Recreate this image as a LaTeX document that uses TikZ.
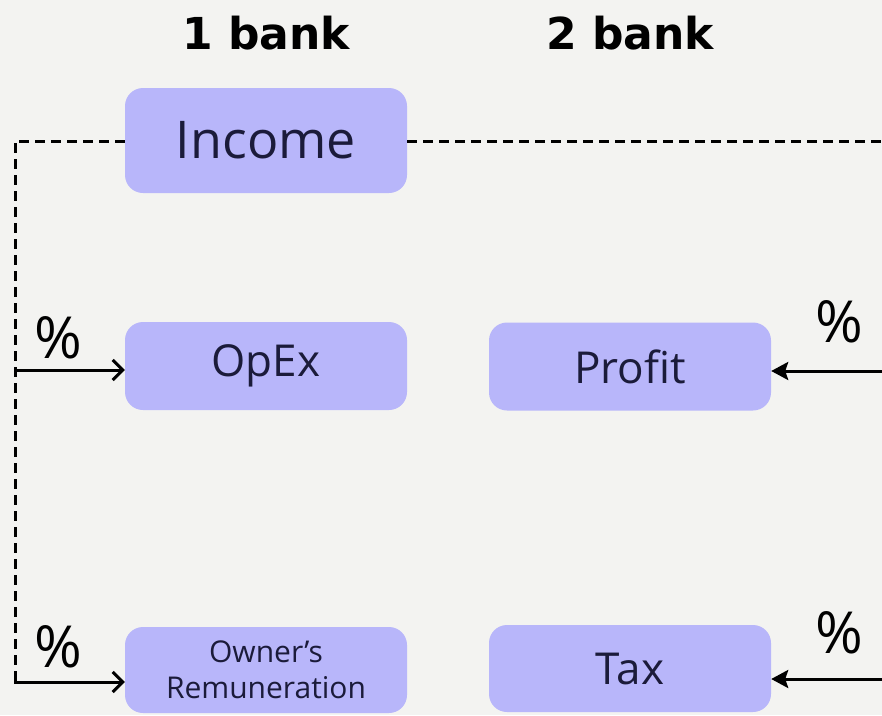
\documentclass[tikz,border=0pt]{standalone}
\usepackage{fontspec}
\setmainfont{Open Sans}
\newfontfamily\headfont{DejaVu Sans}
\usetikzlibrary{arrows.meta}
\definecolor{bgcol}{HTML}{F3F3F1}
\definecolor{boxfill}{HTML}{B8B6FA}
\definecolor{boxtext}{HTML}{1B1B3A}
\tikzset{
  bankbox/.style={rectangle, rounded corners=18pt, fill=boxfill, text=boxtext,
    minimum width=282pt, inner sep=0pt, align=center},
  flow/.style={line width=3pt, dash pattern=on 10pt off 6pt},
  feed/.style={line width=3pt, -{Straight Barb[length=10pt,width=20pt,line width=3pt]}},
  take/.style={line width=3pt, -{Stealth[length=17pt,width=18pt,inset=3pt]}},
  pct/.style={font=\fontsize{58}{58}\selectfont, text=black, inner sep=0pt}
}
\begin{document}
\begin{tikzpicture}[x=1pt, y=-1pt]
      \newcommand\LX{266}
      \newcommand\RX{630}
      \newcommand\BIG{\fontsize{52}{52}\selectfont}
      \newcommand\MID{\fontsize{44}{44}\selectfont}
      \newcommand\SMALL{\fontsize{30}{36}\selectfont}

      \fill[bgcol] (0, 0) rectangle (882, 715);
      \useasboundingbox (0, 0) rectangle (882, 715);

      % column headings
      \node[font=\headfont\bfseries\fontsize{44}{44}\selectfont] (bank1) at (\LX, 33) {1 bank};
      \node[font=\headfont\bfseries\fontsize{44}{44}\selectfont] (bank2) at (\RX, 33) {2 bank};

      % boxes
      \node[bankbox, minimum height=105pt, font=\BIG] (Income) at (\LX, 140.5) {Income};
      \node[bankbox, minimum height=88pt, font=\MID] (OpEx) at (\LX, 366) {OpEx};
      \node[bankbox, minimum height=88pt, font=\MID] (Profit) at (\RX, 366.5) {Profit};
      \node[bankbox, minimum height=86pt, font=\SMALL] (Owner) at (\LX, 670) {Owner’s\\Remuneration};
      \node[bankbox, minimum height=87pt, font=\MID] (Tax) at (\RX, 668.5) {Tax};

      % split points
      \coordinate (topL) at (15, 141);
      \coordinate (midL) at (15, 370);
      \coordinate (botL) at (15, 672);
      \coordinate (topR) at (882, 141);
      \coordinate (midR) at (882, 371);
      \coordinate (botR) at (882, 679);

      \draw[flow] (Income.west |- topL) -- (topL) -- (botL);
      \draw[flow] (Income.east |- topR) -- (topR);

      \draw[feed] (midL) -- (OpEx.west |- midL);
      \draw[feed] (botL) |- ([yshift=-12pt]Owner.west);
      \draw[take] (midR) -- (Profit.east |- midR);
      \draw[take] (botR) -- (Tax.east |- botR);

      % shares
      \node[pct] (pOpEx) at (58, 338) {\%};
      \node[pct] (pOwner) at (58, 647) {\%};
      \node[pct] (pProfit) at (839, 322) {\%};
      \node[pct] (pTax) at (839, 633) {\%};
\end{tikzpicture}
\end{document}
